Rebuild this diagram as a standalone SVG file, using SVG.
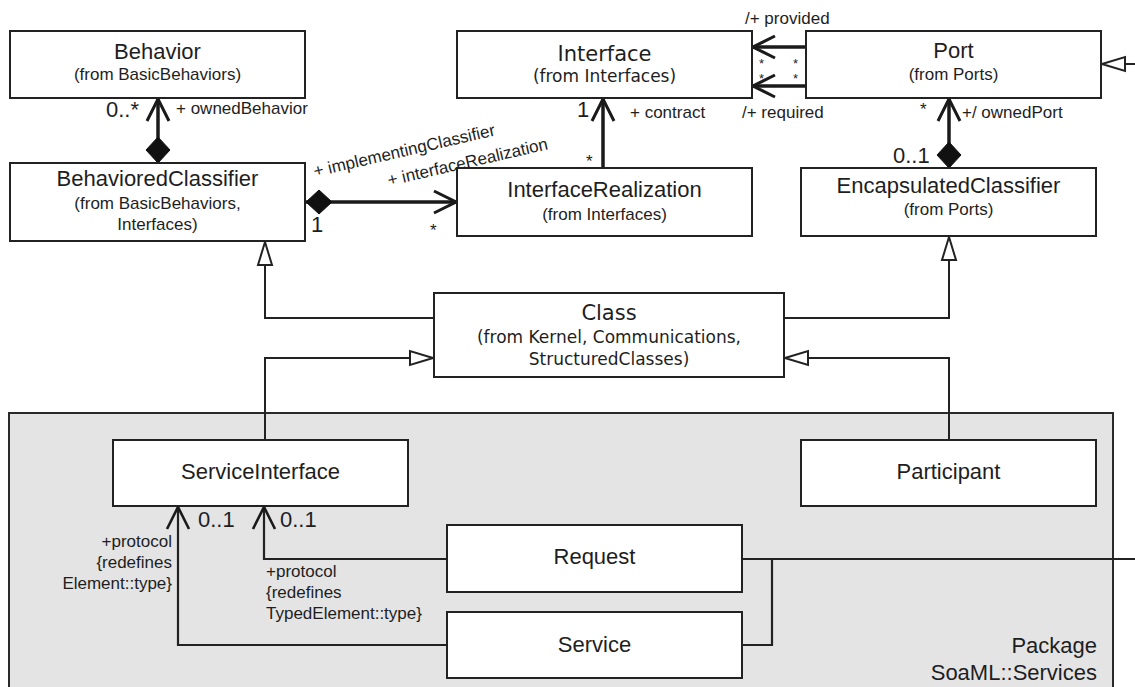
<svg xmlns="http://www.w3.org/2000/svg" width="1135" height="687" viewBox="0 0 1135 687">
  <style>
    .box { fill: #ffffff; stroke: #222; stroke-width: 2; }
    .pkg { fill: #e4e4e4; stroke: #2a2a2a; stroke-width: 2; }
    .t { font-family: "Liberation Sans", Arial, sans-serif; fill: #1e1e1e; }
    .dv { font-family: "DejaVu Sans", sans-serif; fill: #1e1e1e; }
    .title { font-size: 22px; text-anchor: middle; }
    .sub { font-size: 17px; text-anchor: middle; }
    .dtitle { font-size: 21px; text-anchor: middle; }
    .dsub { font-size: 17px; text-anchor: middle; }
    .lbl { font-size: 17px; }
    .star { font-size: 13px; }
    .mult { font-size: 22px; }
    .assoc { fill: none; stroke: #1a1a1a; stroke-width: 3.5; }
    .gen { fill: none; stroke: #222; stroke-width: 2; }
    .thin { fill: none; stroke: #222; stroke-width: 2.2; }
  </style>
  <defs>
    <marker id="open" viewBox="-25 -14 28 28" refX="0" refY="0" markerWidth="28" markerHeight="28" markerUnits="userSpaceOnUse" orient="auto">
      <path d="M-22,-11 L0,0 L-22,11" fill="none" stroke="#1a1a1a" stroke-width="3"/>
    </marker>
    <marker id="openThin" viewBox="-25 -14 28 28" refX="0" refY="0" markerWidth="28" markerHeight="28" markerUnits="userSpaceOnUse" orient="auto">
      <path d="M-22,-11 L0,0 L-22,11" fill="none" stroke="#1a1a1a" stroke-width="2.6"/>
    </marker>
    <marker id="diamond" viewBox="-1 -14 29 28" refX="0" refY="0" markerWidth="29" markerHeight="28" markerUnits="userSpaceOnUse" orient="auto">
      <path d="M0,0 L13,-12 L26,0 L13,12 Z" fill="#111" stroke="#111" stroke-width="1"/>
    </marker>
    <marker id="tri" viewBox="-25 -9 27 18" refX="0" refY="0" markerWidth="27" markerHeight="18" markerUnits="userSpaceOnUse" orient="auto">
      <path d="M0,0 L-23,-7 L-23,7 Z" fill="#ffffff" stroke="#222" stroke-width="2"/>
    </marker>
  </defs>

  <!-- SoaML::Services package frame -->
  <g id="package">
    <rect class="pkg" x="9" y="413" width="1104" height="290"/>
    <text class="t mult" x="1097" y="653" text-anchor="end">Package</text>
    <text class="t mult" x="1097" y="680" text-anchor="end">SoaML::Services</text>
  </g>

  <!-- connectors -->
  <g id="connectors">
    <!-- compositions and associations -->
    <path class="assoc" d="M158,163 L158,99" marker-start="url(#diamond)" marker-end="url(#open)"/>
    <path class="assoc" d="M306,202 L456,202" marker-start="url(#diamond)" marker-end="url(#open)"/>
    <path class="assoc" d="M603,168 L603,99" marker-end="url(#open)"/>
    <path class="assoc" d="M805,47 L753,47" marker-end="url(#open)"/>
    <path class="assoc" d="M805,86 L753,86" marker-end="url(#open)"/>
    <path class="assoc" d="M949,168 L949,99" marker-start="url(#diamond)" marker-end="url(#open)"/>

    <!-- generalizations -->
    <path class="gen" d="M434,318 L265,318 L265,242" marker-end="url(#tri)"/>
    <path class="gen" d="M784,318 L949,318 L949,237" marker-end="url(#tri)"/>
    <path class="gen" d="M265,440 L265,358 L433,358" marker-end="url(#tri)"/>
    <path class="gen" d="M949,440 L949,358 L785,358" marker-end="url(#tri)"/>
    <path class="gen" d="M1135,64 L1102,64" marker-end="url(#tri)"/>

    <!-- protocol associations -->
    <path class="thin" d="M447,559 L264,559 L264,507" marker-end="url(#openThin)"/>
    <path class="thin" d="M447,645 L178,645 L178,507" marker-end="url(#openThin)"/>
    <path class="thin" d="M742,559 L1135,559"/>
    <path class="thin" d="M772,559 L772,645 L742,645"/>

    <!-- end labels -->
    <text class="t mult" x="106" y="117">0..*</text>
    <text class="t lbl" x="176" y="114">+ ownedBehavior</text>
    <text class="t mult" x="311" y="232">1</text>
    <text class="t lbl" x="430" y="236">*</text>
    <text class="t lbl" transform="translate(315,177) rotate(-13)">+ implementingClassifier</text>
    <text class="t lbl" transform="translate(389,186) rotate(-13)">+ interfaceRealization</text>
    <text class="t mult" x="577" y="117">1</text>
    <text class="t lbl" x="630" y="118">+ contract</text>
    <text class="t lbl" x="586" y="167">*</text>
    <text class="t lbl" x="745" y="24">/+ provided</text>
    <text class="t lbl" x="742" y="118">/+ required</text>
    <text class="t star" x="759" y="68">*</text>
    <text class="t star" x="759" y="83">*</text>
    <text class="t star" x="793" y="68">*</text>
    <text class="t star" x="793" y="83">*</text>
    <text class="t lbl" x="920" y="115">*</text>
    <text class="t lbl" x="962" y="118">+/ ownedPort</text>
    <text class="t mult" x="893" y="163">0..1</text>
    <text class="t mult" x="198" y="527">0..1</text>
    <text class="t mult" x="280" y="527">0..1</text>
    <text class="t lbl" text-anchor="end" x="172" y="547">+protocol</text>
    <text class="t lbl" text-anchor="end" x="172" y="568">{redefines</text>
    <text class="t lbl" text-anchor="end" x="172" y="589">Element::type}</text>
    <text class="t lbl" x="266" y="577">+protocol</text>
    <text class="t lbl" x="266" y="598">{redefines</text>
    <text class="t lbl" x="266" y="619">TypedElement::type}</text>
  </g>

  <!-- classes -->
  <g id="behavior">
    <rect class="box" x="10" y="31" width="295" height="67"/>
    <text class="t title" x="157.5" y="59">Behavior</text>
    <text class="t sub" x="157.5" y="80">(from BasicBehaviors)</text>
  </g>
  <g id="behavioredClassifier">
    <rect class="box" x="10" y="163" width="295" height="78"/>
    <text class="t title" x="157.5" y="186">BehavioredClassifier</text>
    <text class="t sub" x="157.5" y="209">(from BasicBehaviors,</text>
    <text class="t sub" x="157.5" y="230">Interfaces)</text>
  </g>
  <g id="interface">
    <rect class="box" x="457" y="31" width="295" height="67"/>
    <text class="dv dtitle" x="604.5" y="61">Interface</text>
    <text class="dv dsub" x="604.5" y="82">(from Interfaces)</text>
  </g>
  <g id="interfaceRealization">
    <rect class="box" x="457" y="168" width="295" height="68"/>
    <text class="t title" x="604.5" y="197">InterfaceRealization</text>
    <text class="t sub" x="604.5" y="220">(from Interfaces)</text>
  </g>
  <g id="port">
    <rect class="box" x="806" y="31" width="295" height="67"/>
    <text class="t title" x="953.5" y="58">Port</text>
    <text class="t sub" x="953.5" y="80">(from Ports)</text>
  </g>
  <g id="encapsulatedClassifier">
    <rect class="box" x="801" y="168" width="295" height="68"/>
    <text class="t title" x="948.5" y="193">EncapsulatedClassifier</text>
    <text class="t sub" x="948.5" y="215">(from Ports)</text>
  </g>
  <g id="class">
    <rect class="box" x="434" y="293" width="350" height="84"/>
    <text class="dv dtitle" x="609" y="320">Class</text>
    <text class="dv dsub" x="609" y="343">(from Kernel, Communications,</text>
    <text class="dv dsub" x="609" y="365">StructuredClasses)</text>
  </g>
  <g id="serviceInterface">
    <rect class="box" x="113" y="440" width="295" height="66"/>
    <text class="t title" x="260.5" y="479">ServiceInterface</text>
  </g>
  <g id="participant">
    <rect class="box" x="801" y="440" width="295" height="66"/>
    <text class="t title" x="948.5" y="479">Participant</text>
  </g>
  <g id="request">
    <rect class="box" x="447" y="525" width="295" height="67"/>
    <text class="t title" x="594.5" y="564">Request</text>
  </g>
  <g id="service">
    <rect class="box" x="447" y="612" width="295" height="66"/>
    <text class="t title" x="594.5" y="652">Service</text>
  </g>
</svg>
